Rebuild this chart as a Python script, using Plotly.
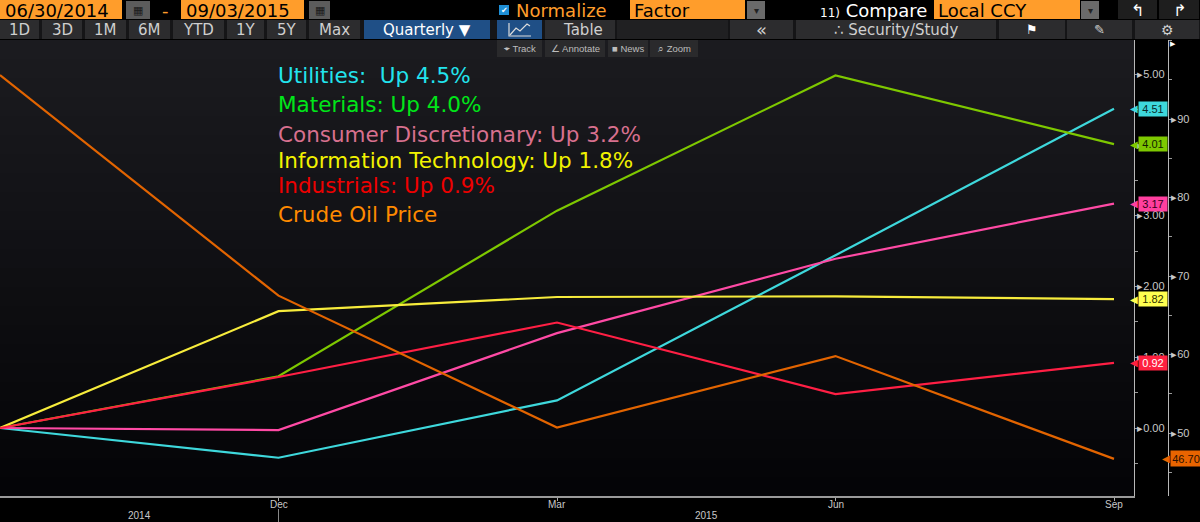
import plotly.graph_objects as go

W, H = 1200, 522

# ---------------- data ----------------
periods = ["Jun", "Dec", "Mar", "Jun", "Sep"]
x_idx = [0, 1, 2, 3, 4]
tick_labels = ["Dec", "Mar", "Jun", "Sep"]
year_labels = ["2014", "2015"]

utilities = [0.00, -0.42, 0.39, 2.44, 4.51]
materials = [0.00, 0.73, 3.07, 4.98, 4.01]
consumer_disc = [0.00, -0.03, 1.34, 2.39, 3.17]
info_tech = [0.00, 1.65, 1.85, 1.86, 1.82]
industrials = [0.00, 0.72, 1.49, 0.48, 0.92]
crude_oil = [95.6, 67.5, 50.7, 59.8, 46.70]

legend_texts = [
    "Utilities:\u00a0\u00a0Up 4.5%",
    "Materials: Up 4.0%",
    "Consumer Discretionary: Up 3.2%",
    "Information Technology: Up 1.8%",
    "Industrials: Up 0.9%",
    "Crude Oil Price",
]

# ---------------- helpers ----------------
def px(x):
    return x / W

def py(y):
    return 1 - y / H

shapes = []
annotations = []

def rect(x0, y0, x1, y1, fill, line=None):
    shapes.append(dict(type="rect", xref="paper", yref="paper",
                       x0=px(x0), x1=px(x1), y0=py(y1), y1=py(y0),
                       fillcolor=fill, line=dict(width=0 if line is None else 1,
                                                 color=line or fill), layer="above"))

def text(x, y, s, color, size, anchor="left", family="DejaVu Sans"):
    annotations.append(dict(xref="paper", yref="paper", x=px(x), y=py(y), text=s,
                            showarrow=False, xanchor=anchor, yanchor="middle",
                            font=dict(color=color, size=size, family=family)))

SMALL_FONT = "Liberation Sans Narrow, Arial Narrow, Liberation Sans, sans-serif"

# plot geometry (pixels)
X_LEFT, X_AX1, X_AX2 = 0, 1134, 1168
Y_TOP, Y_BOT = 40, 496
x_per = 1114 / 4.0
x_range = [0, (X_AX1 - X_LEFT) / x_per]
# left axis: 0 at 428px, 70.8 px per unit
y1_range = [(428 - Y_BOT) / 70.8, (428 - Y_TOP) / 70.8]
# right axis: 50 at 433px, 7.85 px per unit
y2_range = [50 + (433 - Y_BOT) / 7.85, 50 + (433 - Y_TOP) / 7.85]

# ---------------- background gradient in plot area ----------------
n = 24
top_c = (27, 27, 31)
bot_c = (4, 4, 7)
for i in range(n):
    t = i / (n - 1)
    c = tuple(int(round(top_c[k] + (bot_c[k] - top_c[k]) * t)) for k in range(3))
    y0 = Y_TOP + (Y_BOT - Y_TOP) * i / n
    y1 = Y_TOP + (Y_BOT - Y_TOP) * (i + 1) / n + 1
    shapes.append(dict(type="rect", xref="paper", yref="paper",
                       x0=px(0), x1=px(X_AX1), y0=py(min(y1, Y_BOT)), y1=py(y0),
                       fillcolor="rgb(%d,%d,%d)" % c, line=dict(width=0), layer="below"))

# ---------------- traces ----------------
series = [
    ("Utilities", utilities, "#3ed8dc", "#3ed8dc", "#0a2a2a"),
    ("Materials", materials, "#7ec800", "#7ec800", "#102000"),
    ("Consumer Discretionary", consumer_disc, "#ff4aa5", "#ff3f9f", "#300018"),
    ("Information Technology", info_tech, "#f7ec3c", "#ffff50", "#303000"),
    ("Industrials", industrials, "#ff1f44", "#ff2040", "#ffffff"),
]

fig = go.Figure()
for name, vals, col, _, _ in series:
    fig.add_trace(go.Scatter(x=x_idx, y=vals, mode="lines", name=name,
                             line=dict(color=col, width=2.2), yaxis="y",
                             hoverinfo="skip"))
fig.add_trace(go.Scatter(x=x_idx, y=crude_oil, mode="lines", name="Crude Oil Price",
                         line=dict(color="#e26400", width=2.2), yaxis="y2",
                         hoverinfo="skip"))

# value tags
for name, vals, col, tagc, txtc in series:
    v = vals[-1]
    annotations.append(dict(xref="paper", yref="y", x=px(1152.5), y=v, text="%.2f" % v,
                            showarrow=False, xanchor="center", yanchor="middle",
                            bgcolor=tagc, width=28, height=14, borderpad=0,
                            font=dict(color=txtc, size=11, family="Liberation Sans")))
    annotations.append(dict(xref="paper", yref="y", x=px(1139.5), y=v, text="\u25c0",
                            showarrow=False, xanchor="right", yanchor="middle",
                            font=dict(color=tagc, size=10, family="DejaVu Sans")))
annotations.append(dict(xref="paper", yref="y2", x=px(1185.5), y=crude_oil[-1],
                        text="%.2f" % crude_oil[-1], showarrow=False, xanchor="center",
                        yanchor="middle", bgcolor="#e86400", width=30, height=15, borderpad=0,
                        font=dict(color="#2a1000", size=11, family="Liberation Sans")))
annotations.append(dict(xref="paper", yref="y2", x=px(1171.5), y=crude_oil[-1], text="\u25c0",
                        showarrow=False, xanchor="right", yanchor="middle",
                        font=dict(color="#e86400", size=10, family="DejaVu Sans")))

# legend text
legend_colors = ["#22e4ee", "#00e619", "#d8708e", "#f2f200", "#ee0000", "#ff8a00"]
legend_y = [75.5, 104.5, 134.5, 160.5, 185.5, 215]
for s, c, yy in zip(legend_texts, legend_colors, legend_y):
    text(276, yy, s, c, 21.5)

# x tick labels (drawn at the data positions)
for xv, lab in zip(x_idx[1:], tick_labels):
    annotations.append(dict(xref="x", yref="paper", x=xv, y=py(504), text=lab,
                            showarrow=False, xanchor="center", yanchor="middle",
                            font=dict(color="#c8c8c8", size=10, family=SMALL_FONT)))

# x axis year labels and separator
shapes.append(dict(type="line", xref="x", yref="paper", x0=1, x1=1,
                   y0=0, y1=py(509), line=dict(color="#888888", width=1), layer="above"))
year_x = [(0 + 1) / 2, (1 + x_range[1]) / 2]
for xv, lab in zip(year_x, year_labels):
    annotations.append(dict(xref="x", yref="paper", x=xv, y=py(515), text=lab,
                            showarrow=False, xanchor="center", yanchor="middle",
                            font=dict(color="#c8c8c8", size=10, family=SMALL_FONT)))

# black area right of the plot (axes panel)
shapes.append(dict(type="rect", xref="paper", yref="paper", x0=px(X_AX1), x1=1,
                   y0=0, y1=py(Y_TOP), fillcolor="#000000", line=dict(width=0), layer="below"))

# ---------------- toolbar ----------------
ORANGE = "#ff9d2b"
rect(0, 0, 1200, 40, "#000000")
# row 1
rect(0, 0, 122, 19, ORANGE)
text(3, 10, "06/30/2014", "#000000", 18)
rect(126, 1, 150, 19, "#5c5c5c")
text(138, 10, "\u25a6", "#1a1a1a", 11, "center")
text(165, 10, "-", ORANGE, 18, "center")
rect(181, 0, 304, 19, ORANGE)
text(184, 10, "09/03/2015", "#000000", 18)
rect(309, 1, 330, 19, "#5c5c5c")
text(319.5, 10, "\u25a6", "#1a1a1a", 11, "center")
rect(499, 5, 509, 15, "#1e8fd6")
text(504, 10, "\u2714", "#ffffff", 8, "center")
text(514, 10, "Normalize", ORANGE, 18)
rect(630, 0, 745, 19, ORANGE)
text(632, 10, "Factor", "#000000", 18)
rect(747, 1, 765, 19, "#6a6a6a")
text(756, 10, "\u25be", "#222222", 10, "center")
text(818, 10, "<span style='font-size:12px'>11)</span> Compare", "#ffffff", 18)
rect(934, 0, 1080, 19, ORANGE)
text(936, 10, "Local CCY", "#000000", 18)
rect(1081, 1, 1099, 19, "#6a6a6a")
text(1090, 10, "\u25be", "#222222", 10, "center")
rect(1118, 0, 1157, 19, "#1e1e1e")
text(1137, 10, "\u21b0", "#ffffff", 16, "center")
rect(1159, 0, 1199, 19, "#1e1e1e")
text(1179, 10, "\u21b1", "#ffffff", 16, "center")

# row 2
BTN = "#2c2c2e"
BLUE = "#1f4f86"
rect(0, 20, 1200, 39, "#151517")
row2 = [(0, 39, "1D"), (42, 82, "3D"), (85, 126, "1M"), (129, 170, "6M"),
        (173, 224, "YTD"), (227, 264, "1Y"), (267, 306, "5Y"), (309, 360, "Max")]
for a, b, s in row2:
    rect(a, 20, b, 39, BTN)
    text((a + b) / 2, 29.5, s, "#cfcfcf", 15, "center")
rect(364, 20, 490, 39, BLUE)
text(427, 29.5, "Quarterly \u25bc", "#ffffff", 15, "center")
rect(497, 20, 542, 39, BLUE)
shapes.append(dict(type="path", xref="paper", yref="paper", layer="above",
                   path="M %f %f L %f %f L %f %f L %f %f L %f %f" % (
                       px(510), py(35), px(516), py(28), px(520), py(31), px(527), py(24),
                       px(530), py(26)),
                   line=dict(color="#dcdcdc", width=1.2)))
shapes.append(dict(type="path", xref="paper", yref="paper", layer="above",
                   path="M %f %f L %f %f L %f %f" % (px(509), py(23), px(509), py(36),
                                                     px(531), py(36)),
                   line=dict(color="#dcdcdc", width=1.2)))
rect(545, 20, 615, 39, BTN)
text(583, 29.5, "Table", "#cfcfcf", 15, "center")
rect(617, 20, 728, 39, "#202022")
rect(730, 20, 793, 39, BTN)
text(761.5, 29.5, "\u00ab", "#cfcfcf", 18, "center")
rect(796, 20, 996, 39, BTN)
text(896, 29.5, "\u2234 Security/Study", "#cfcfcf", 15, "center")
rect(999, 20, 1065, 39, BTN)
text(1032, 29.5, "\u2691", "#ffffff", 13, "center")
rect(1067, 20, 1132, 39, BTN)
text(1099.5, 29.5, "\u270e", "#cfcfcf", 13, "center")
rect(1135, 20, 1199, 39, BTN)
text(1167, 29.5, "\u2699", "#cfcfcf", 14, "center")

# row 3 small buttons (over the chart)
row3 = [(497, 542, "\u2316 Track"), (545, 605, "\u2220 Annotate"),
        (608, 648, "\u25a0 News"), (650, 698, "\u2315 Zoom")]
for a, b, s in row3:
    rect(a, 40, b, 57, "#2a2a2c")
    text((a + b) / 2, 48.5, s, "#bdbdbd", 9.5, "center", "Liberation Sans")

# flag at top of right axis
text(X_AX2 + 5, 44, "\u25b6", "#ffffff", 7, "center")

# ---------------- layout ----------------
tick_font = dict(color="#c8c8c8", size=11, family="Liberation Sans")
y1_vals = [0, 1, 2, 3, 4, 5]
y2_vals = [50, 60, 70, 80, 90]

fig.update_layout(
    width=W, height=H,
    margin=dict(l=0, r=0, t=0, b=0, pad=0, autoexpand=False),
    paper_bgcolor="#000000",
    plot_bgcolor="rgba(0,0,0,0)",
    showlegend=False,
    shapes=shapes,
    annotations=annotations,
    xaxis=dict(domain=[px(X_LEFT), px(X_AX1)], range=x_range, tickmode="array",
               tickvals=x_idx[1:], showticklabels=False, ticks="outside", ticklen=3,
               tickcolor="#aaaaaa", showline=True, linecolor="#9a9a9a", linewidth=2,
               showgrid=False, zeroline=False, automargin=False, fixedrange=True),
    yaxis=dict(domain=[py(Y_BOT), py(Y_TOP)], range=y1_range, side="right",
               tickmode="array", tickvals=y1_vals,
               ticktext=["\u25b8%.2f" % v for v in y1_vals], ticks="",
               ticklabelstandoff=0, automargin=False,
               minor=dict(dtick=0.5, tick0=0.5, ticks="outside", ticklen=3,
                          tickcolor="#999999"),
               showline=True, linecolor="#b8b8b8", linewidth=1, showgrid=False,
               zeroline=False, tickfont=tick_font, fixedrange=True),
    yaxis2=dict(domain=[py(Y_BOT), py(Y_TOP)], range=y2_range, side="right",
                overlaying="y", anchor="free", position=px(X_AX2),
                tickmode="array", tickvals=y2_vals,
                ticktext=["\u25b8%d" % v for v in y2_vals], ticks="",
                ticklabelstandoff=0, automargin=False,
                minor=dict(dtick=5, tick0=45, ticks="outside", ticklen=3,
                           tickcolor="#999999"),
                showline=True, linecolor="#b8b8b8", linewidth=1, showgrid=False,
                zeroline=False, tickfont=tick_font, fixedrange=True),
)

fig.write_html("out.html",
               config={"displayModeBar": False, "staticPlot": True},
               post_script="document.body.style.margin='0px';"
                           "document.body.style.overflow='hidden';"
                           "document.body.style.background='#000';")
